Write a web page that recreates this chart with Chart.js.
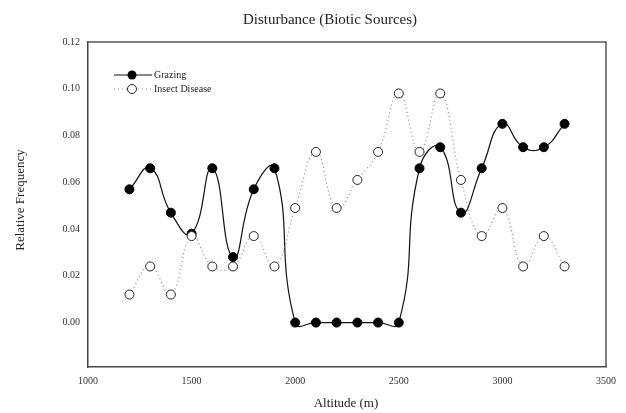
<!DOCTYPE html>
<html>
<head>
<meta charset="utf-8">
<script src="https://cdn.jsdelivr.net/npm/chart.js@4/dist/chart.umd.min.js"></script>
<style>
  html, body { margin: 0; padding: 0; background: #fff; }
  #wrap { width: 626px; height: 413px; }
</style>
</head>
<body>
<div id="wrap"><canvas id="chart"></canvas></div>
<script>
// altitude classes (m)
var altitudes = [1200, 1300, 1400, 1500, 1600, 1700, 1800, 1900, 2000, 2100, 2200,
                 2300, 2400, 2500, 2600, 2700, 2800, 2900, 3000, 3100, 3200, 3300];
// relative frequency
var grazing = [0.057, 0.066, 0.047, 0.038, 0.066, 0.028, 0.057, 0.066, 0.000, 0.000, 0.000,
               0.000, 0.000, 0.000, 0.066, 0.075, 0.047, 0.066, 0.085, 0.075, 0.075, 0.085];
var insectDisease = [0.012, 0.024, 0.012, 0.037, 0.024, 0.024, 0.037, 0.024, 0.049, 0.073, 0.049,
                     0.061, 0.073, 0.098, 0.073, 0.098, 0.061, 0.037, 0.049, 0.024, 0.037, 0.024];
var xTicks = [1000, 1500, 2000, 2500, 3000, 3500];
var yTicks = [0, 0.02, 0.04, 0.06, 0.08, 0.10, 0.12];

var serif = '"Liberation Serif", "DejaVu Serif", serif';

function pts(ys) {
    return altitudes.map(function(a, i) { return {x: a, y: ys[i]}; });
}

// title, frame, axis titles and the small legend inside the plot
var decor = {
    id: 'decor',
    afterDraw: function(chart) {
        var ctx = chart.ctx, a = chart.chartArea;
        ctx.save();
        ctx.strokeStyle = '#555';
        ctx.lineWidth = 1.5;
        ctx.beginPath();
        ctx.moveTo(a.left, a.top);
        ctx.lineTo(a.right, a.top);
        ctx.lineTo(a.right, a.bottom);
        ctx.stroke();

        ctx.fillStyle = '#222';
        ctx.textAlign = 'center';
        ctx.textBaseline = 'middle';
        ctx.font = '15px ' + serif;
        ctx.fillText('Disturbance (Biotic Sources)', 330, 20);
        ctx.font = '13px ' + serif;
        ctx.fillText('Altitude (m)', 346, 404);
        ctx.translate(21, 200);
        ctx.rotate(-Math.PI / 2);
        ctx.fillText('Relative Frequency', 0, 0);
        ctx.restore();

        // legend
        ctx.save();
        ctx.font = '10px ' + serif;
        ctx.textAlign = 'left';
        ctx.textBaseline = 'middle';
        ctx.fillStyle = '#222';
        ctx.strokeStyle = '#111';
        ctx.lineWidth = 1.2;
        ctx.beginPath(); ctx.moveTo(114, 75); ctx.lineTo(152, 75); ctx.stroke();
        ctx.beginPath(); ctx.arc(132, 75, 4.5, 0, Math.PI * 2); ctx.fillStyle = '#000'; ctx.fill();
        ctx.fillStyle = '#222';
        ctx.fillText('Grazing', 154, 75);
        ctx.strokeStyle = '#888';
        ctx.setLineDash([1, 3]);
        ctx.beginPath(); ctx.moveTo(114, 89); ctx.lineTo(152, 89); ctx.stroke();
        ctx.setLineDash([]);
        ctx.beginPath(); ctx.arc(132, 89, 4.5, 0, Math.PI * 2);
        ctx.fillStyle = '#fff'; ctx.fill(); ctx.strokeStyle = '#222'; ctx.lineWidth = 1; ctx.stroke();
        ctx.fillStyle = '#222';
        ctx.fillText('Insect Disease', 154, 89);
        ctx.restore();
    }
};

new Chart(document.getElementById('chart'), {
    type: 'line',
    data: {
        datasets: [{
            label: 'Insect Disease',
            data: pts(insectDisease),
            borderColor: '#888',
            borderWidth: 1.2,
            borderDash: [1, 3],
            tension: 0.45,
            pointRadius: 4.5,
            pointBackgroundColor: '#fff',
            pointBorderColor: '#222',
            pointBorderWidth: 1
        }, {
            label: 'Grazing',
            data: pts(grazing),
            borderColor: '#111',
            borderWidth: 1.2,
            tension: 0.5,
            pointRadius: 4.5,
            pointBackgroundColor: '#000',
            pointBorderColor: '#000',
            pointBorderWidth: 1
        }]
    },
    options: {
        responsive: true,
        maintainAspectRatio: false,
        animation: false,
        layout: { padding: { top: 42, right: 20, left: 0, bottom: 0 } },
        plugins: {
            legend: { display: false },
            title: { display: false },
            tooltip: { enabled: false }
        },
        scales: {
            x: {
                type: 'linear',
                min: 1000,
                max: 3500,
                afterBuildTicks: function(s) { s.ticks = xTicks.map(function(v) { return {value: v}; }); },
                afterFit: function(s) { s.height = 46; },
                grid: { display: false, drawTicks: true, tickLength: 5, tickColor: '#444' },
                border: { display: true, color: '#444', width: 1.5 },
                ticks: {
                    color: '#333',
                    font: { family: serif, size: 10 },
                    padding: 3,
                    callback: function(v) { return String(v); }
                }
            },
            y: {
                min: -0.019,
                max: 0.12,
                afterBuildTicks: function(s) { s.ticks = yTicks.map(function(v) { return {value: v}; }); },
                afterFit: function(s) { s.width = 88; },
                grid: { display: false, drawTicks: true, tickLength: 5, tickColor: '#444' },
                border: { display: true, color: '#444', width: 1.5 },
                ticks: {
                    color: '#333',
                    font: { family: serif, size: 10 },
                    padding: 3,
                    callback: function(v) { return v.toFixed(2); }
                }
            }
        }
    },
    plugins: [decor]
});
</script>
</body>
</html>
